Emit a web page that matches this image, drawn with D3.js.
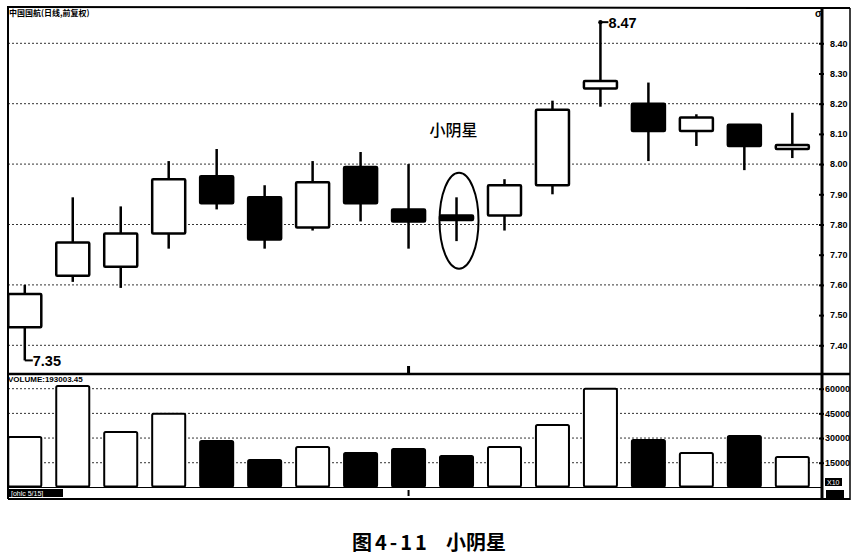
<!DOCTYPE html>
<html><head><meta charset="utf-8">
<script src="https://cdn.jsdelivr.net/npm/d3@7/dist/d3.min.js"></script>
<style>html,body{margin:0;padding:0;background:#fff;}svg{display:block;}</style>
</head><body>
<svg id="c" width="860" height="558"></svg>
<script>
const days = ["1","2","3","4","5","6","7","8","9","10","11","12","13","14","15","16","17"];
const open  = [7.46,7.63,7.66,7.77,7.96,7.89,7.79,7.99,7.85,7.83,7.83,7.93,8.25,8.20,8.11,8.13,8.05];
const close = [7.57,7.74,7.77,7.95,7.87,7.75,7.94,7.87,7.81,7.815,7.93,8.18,8.275,8.11,8.154,8.06,8.063];
const high  = [7.60,7.89,7.86,8.01,8.05,7.93,8.01,8.04,8.00,7.89,7.95,8.21,8.47,8.27,8.165,8.13,8.17];
const low   = [7.35,7.61,7.59,7.72,7.85,7.72,7.78,7.81,7.72,7.745,7.78,7.90,8.19,8.01,8.06,7.98,8.02];
const volume = [30600,61700,33700,44700,28200,16700,24600,20900,23400,19100,24600,38000,59900,28800,20900,31300,18500];
const priceTicks = [7.40,7.50,7.60,7.70,7.80,7.90,8.00,8.10,8.20,8.30,8.40];
const priceGrid = [7.40,7.60,7.80,8.00,8.20,8.40];
const volTicks = [15000,30000,45000,60000];
const titleText = "中国国航(日线,前复权)";
const volText = "VOLUME:193003.45";
const annoText = "小阴星";
const captionFig = "图4-11";
const captionName = "小阴星";

const svg = d3.select("#c");
const L = 8, R = 822, OUTR = 850;
const x = d3.scaleBand().domain(days).range([0.8, 816.3]).paddingInner(0.27).paddingOuter(0.135);
const y = d3.scaleLinear().domain([7.40, 8.40]).range([345.3, 43.3]);
const yv = d3.scaleLinear().domain([0, 60000]).range([487.4, 388.7]);
const bw = x.bandwidth();
const cx = d => x(d) + bw / 2;

// gridlines
const g = svg.append("g");
g.selectAll("line.pg").data(priceGrid).join("line")
  .attr("x1", L).attr("x2", R).attr("y1", d => y(d)).attr("y2", d => y(d))
  .attr("stroke", "#333").attr("stroke-width", 1).attr("stroke-dasharray", "2,2");
g.selectAll("line.vg").data(volTicks).join("line")
  .attr("x1", L).attr("x2", R).attr("y1", d => yv(d)).attr("y2", d => yv(d))
  .attr("stroke", "#333").attr("stroke-width", 1).attr("stroke-dasharray", "2,2");

// candles
const c = svg.append("g");
days.forEach((d, i) => {
  const up = close[i] >= open[i];
  c.append("line").attr("x1", cx(d)).attr("x2", cx(d))
    .attr("y1", y(high[i])).attr("y2", y(low[i]))
    .attr("stroke", "#000").attr("stroke-width", 2.5);
  const top = y(Math.max(open[i], close[i])), bot = y(Math.min(open[i], close[i]));
  c.append("rect").attr("x", x(d) + 1).attr("width", bw - 2)
    .attr("y", top).attr("height", Math.max(bot - top, 1.5))
    .attr("rx", 1)
    .attr("fill", up ? "#fff" : "#000").attr("stroke", "#000").attr("stroke-width", 2.5);
});

// volume bars
days.forEach((d, i) => {
  const up = close[i] >= open[i];
  c.append("rect").attr("x", x(d) + 1).attr("width", bw - 2)
    .attr("y", yv(volume[i])).attr("height", yv(0) - yv(volume[i]) - 1)
    .attr("rx", 1.5)
    .attr("fill", up ? "#fff" : "#000").attr("stroke", "#000").attr("stroke-width", 2);
});

// min / max annotations
const iMin = 0, iMax = 12;
c.append("path").attr("d", `M${cx(days[iMin])},${y(low[iMin])}h8`).attr("stroke", "#000").attr("stroke-width", 2).attr("fill", "none");
c.append("text").attr("x", cx(days[iMin]) + 8).attr("y", y(low[iMin]) + 5.5)
  .attr("font-family", "Liberation Sans, Arial, sans-serif").attr("font-size", 14.5).attr("font-weight", "bold")
  .text(low[iMin].toFixed(2));
c.append("circle").attr("cx", cx(days[iMax])).attr("cy", y(high[iMax])).attr("r", 2.2).attr("fill", "#000");
c.append("path").attr("d", `M${cx(days[iMax])},${y(high[iMax])}h8`).attr("stroke", "#000").attr("stroke-width", 2).attr("fill", "none");
c.append("text").attr("x", cx(days[iMax]) + 8).attr("y", y(high[iMax]) + 5.5)
  .attr("font-family", "Liberation Sans, Arial, sans-serif").attr("font-size", 14.5).attr("font-weight", "bold")
  .text(high[iMax].toFixed(2));

// ellipse around doji
const iDoji = 9;
c.append("ellipse").attr("cx", cx(days[iDoji]) + 2.5).attr("cy", y((high[iDoji] + low[iDoji]) / 2) + 1.5)
  .attr("rx", 19.5).attr("ry", 48).attr("fill", "none").attr("stroke", "#000").attr("stroke-width", 2);
c.append("text").attr("x", cx(days[iDoji]) - 3).attr("y", 136).attr("text-anchor", "middle")
  .attr("font-family", "Noto Sans CJK SC, sans-serif").attr("font-size", 16).attr("font-weight", 500)
  .text(annoText);

// frame
const f = svg.append("g").attr("stroke", "#000").attr("fill", "none");
f.append("line").attr("x1", L - 1).attr("x2", OUTR).attr("y1", 7).attr("y2", 8).attr("stroke-width", 2);
f.append("line").attr("x1", L).attr("x2", L).attr("y1", 6).attr("y2", 499).attr("stroke-width", 2);
f.append("line").attr("x1", R).attr("x2", R).attr("y1", 8).attr("y2", 499).attr("stroke-width", 3);
f.append("line").attr("x1", OUTR).attr("x2", OUTR).attr("y1", 8).attr("y2", 500).attr("stroke-width", 1.5);
f.append("line").attr("x1", L).attr("x2", OUTR).attr("y1", 374).attr("y2", 374).attr("stroke-width", 2.5);
f.append("line").attr("x1", L).attr("x2", R).attr("y1", 487.5).attr("y2", 487.5).attr("stroke-width", 1);
f.append("line").attr("x1", L).attr("x2", OUTR).attr("y1", 499).attr("y2", 499).attr("stroke-width", 2);

// price axis
const ax = svg.append("g").attr("transform", `translate(${R},0)`);
ax.call(d3.axisRight(y).tickValues(priceTicks).tickSize(0).tickPadding(8).tickFormat(d3.format(".2f")));
ax.select(".domain").remove();
ax.selectAll("text").attr("font-family", "Liberation Sans, Arial, sans-serif").attr("font-size", 9).attr("font-weight", "bold").attr("fill", "#000");
ax.selectAll(".tick").append("line").attr("x1", -3).attr("x2", 2).attr("stroke", "#000").attr("stroke-width", 2);

// volume axis
const av = svg.append("g").attr("transform", `translate(${R},0)`);
av.call(d3.axisRight(yv).tickValues(volTicks).tickSize(0).tickPadding(3).tickFormat(d3.format("d")));
av.select(".domain").remove();
av.selectAll("text").attr("font-family", "Liberation Sans, Arial, sans-serif").attr("font-size", 9).attr("font-weight", "bold").attr("fill", "#000");
av.selectAll(".tick").append("line").attr("x1", -3).attr("x2", 2).attr("stroke", "#000").attr("stroke-width", 2);

// labels
svg.append("text").attr("x", 9).attr("y", 16).attr("font-family", "Noto Sans CJK SC, sans-serif")
  .attr("font-size", 8).attr("font-weight", "bold").text(titleText);
svg.append("text").attr("x", 815).attr("y", 17).attr("font-family", "Liberation Sans, sans-serif")
  .attr("font-size", 10).attr("font-weight", "bold").text("σ");
svg.append("text").attr("x", 8).attr("y", 382).attr("font-family", "Liberation Sans, Arial, sans-serif")
  .attr("font-size", 8).attr("font-weight", "bold").text(volText);

// bottom strip label box
svg.append("rect").attr("x", 8).attr("y", 489).attr("width", 55).attr("height", 8).attr("fill", "#000");
svg.append("text").attr("x", 11).attr("y", 496).attr("font-family", "Liberation Sans, sans-serif")
  .attr("font-size", 7).attr("fill", "#fff").text("[ohlc 5/15]");
// right small boxes
svg.append("rect").attr("x", 825).attr("y", 478).attr("width", 17).attr("height", 8).attr("fill", "#000");
svg.append("text").attr("x", 827).attr("y", 485).attr("font-family", "Liberation Sans, sans-serif")
  .attr("font-size", 7).attr("fill", "#fff").text("X10");
svg.append("rect").attr("x", 826).attr("y", 490).attr("width", 18).attr("height", 8).attr("fill", "#000");
// crosshair marks
const xm = cx(days[8]);
svg.append("rect").attr("x", xm - 1.5).attr("y", 366).attr("width", 3).attr("height", 8).attr("fill", "#000");
svg.append("rect").attr("x", xm - 1).attr("y", 490).attr("width", 2).attr("height", 6).attr("fill", "#000");

// caption
svg.append("text").attr("x", 352).attr("y", 550)
  .attr("font-family", "Noto Sans CJK SC, sans-serif").attr("font-size", 20).attr("font-weight", "bold")
  .attr("letter-spacing", 3).text(captionFig);
svg.append("text").attr("x", 446).attr("y", 550)
  .attr("font-family", "Noto Sans CJK SC, sans-serif").attr("font-size", 20).attr("font-weight", "bold")
  .text(captionName);
</script>
</body></html>
